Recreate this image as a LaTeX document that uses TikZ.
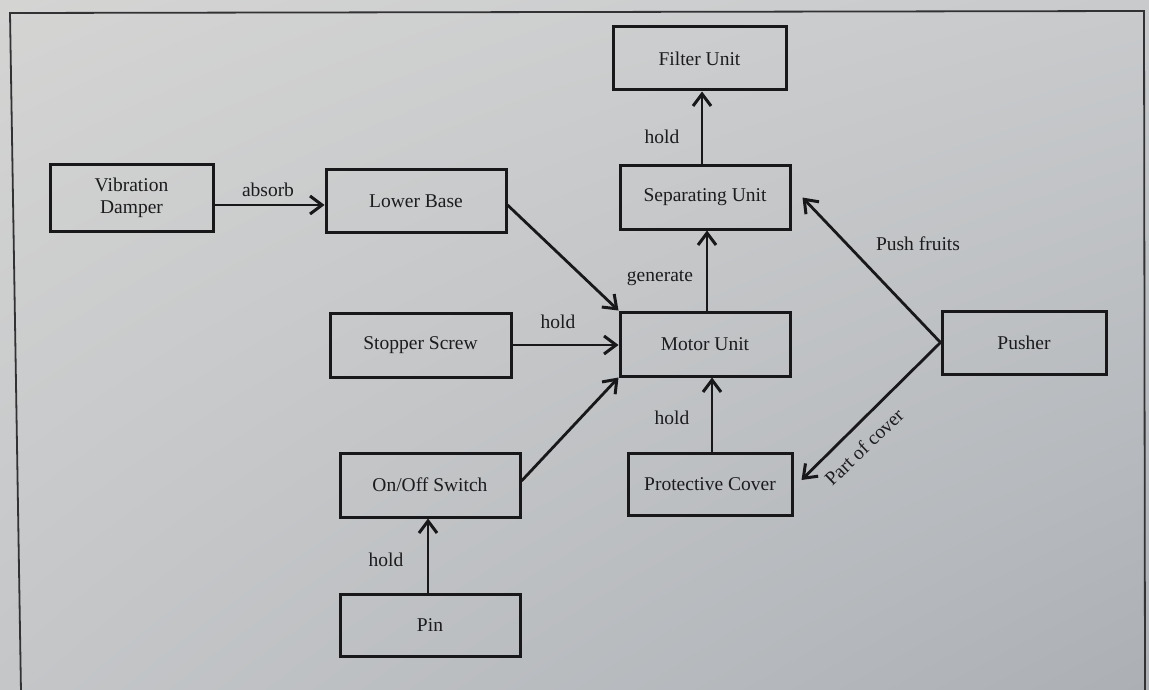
\documentclass[tikz,border=0pt]{standalone}
\usepackage{fontspec}
\setmainfont{Liberation Serif}
\usetikzlibrary{arrows.meta,shadings}

\definecolor{ink}{RGB}{24,24,26}
\definecolor{txt}{RGB}{28,28,30}
\definecolor{paperA}{RGB}{212,212,211}
\definecolor{paperB}{RGB}{200,202,204}
\definecolor{paperC}{RGB}{196,198,200}
\definecolor{paperD}{RGB}{172,176,181}
\definecolor{framec}{RGB}{50,50,53}

\tikzset{
  box/.style={draw=ink, line width=3pt, rectangle, inner sep=0pt,
              text=txt, font=\fontsize{19.5}{22}\selectfont, align=center},
  lbl/.style={text=txt, font=\fontsize{19.5}{22}\selectfont, inner sep=0pt},
  arr/.style={draw=ink, line width=2.8pt,
              -{Straight Barb[length=12pt,width=18pt,line width=3pt]}},
}

\begin{document}
\begin{tikzpicture}[x=1pt,y=-1pt]
  \useasboundingbox (0,0) rectangle (1149,690);
  \clip (0,0) rectangle (1149,690);

  % paper
  \shade[upper left=paperA, upper right=paperB, lower left=paperC, lower right=paperD]
    (0,0) rectangle (1149,690);

  % outer frame, open at the bottom
  \draw[framec, line width=1.8pt] (21,692) -- (10,13) -- (1144,11) -- (1145,692);

  % blocks
  \node[box, minimum width=163pt, minimum height=66pt] (damper)  at (131.5,198) {Vibration\\Damper};
  \node[box, minimum width=180pt, minimum height=62pt] (lower)   at (416,201)   {Lower Base};
  \node[box, minimum width=173pt, minimum height=63pt] (filter)  at (699.5,58.5){Filter Unit};
  \node[box, minimum width=170pt, minimum height=63pt] (sep)     at (705,197.5) {Separating Unit};
  \node[box, minimum width=170pt, minimum height=64pt] (motor)   at (705,344)   {Motor Unit};
  \node[box, minimum width=181pt, minimum height=64pt] (stopper) at (420.5,345) {Stopper Screw};
  \node[box, minimum width=180pt, minimum height=64pt] (onoff)   at (430,485)   {On/Off Switch};
  \node[box, minimum width=164pt, minimum height=62pt] (cover)   at (710,484)   {Protective Cover};
  \node[box, minimum width=164pt, minimum height=63pt] (pusher)  at (1024,342.5){Pusher};
  \node[box, minimum width=180pt, minimum height=62pt] (pin)     at (430,625)   {Pin};

  % connectors
  \coordinate (dOut) at ([yshift=-7pt]damper.east);
  \draw[arr] (dOut) -- (dOut -| lower.west);
  \coordinate (lOut) at ([yshift=-4pt]lower.east);
  \draw[arr] (lOut) -- (motor.north west);
  \draw[arr] (stopper.east) -- (stopper.east -| motor.west);
  \coordinate (oOut) at ([yshift=4pt]onoff.east);
  \draw[arr] (oOut) -- (motor.south west);
  \coordinate (mOut) at ([xshift=2pt]motor.north);
  \draw[arr] (mOut) -- (mOut |- sep.south);
  \coordinate (sOut) at ([xshift=-3pt]sep.north);
  \draw[arr] (sOut) -- (sOut |- filter.south);
  \coordinate (cOut) at ([xshift=2pt]cover.north);
  \draw[arr] (cOut) -- (cOut |- motor.south);
  \coordinate (pOut) at ([xshift=-2pt]pin.north);
  \draw[arr] (pOut) -- (pOut |- onoff.south);
  \draw[arr] (pusher.west) -- ([xshift=11pt]sep.east);
  \draw[arr] (pusher.west) -- ([xshift=8pt,yshift=4pt]cover.east);

  % connector labels
  \node[lbl] (tAbsorb)   at (268,190) {absorb};
  \node[lbl] (tHoldF)    at (662,137) {hold};
  \node[lbl] (tGenerate) at (660,278) {generate};
  \node[lbl] (tHoldS)    at (558,322) {hold};
  \node[lbl] (tHoldC)    at (672,418) {hold};
  \node[lbl] (tHoldP)    at (386,560) {hold};
  \node[lbl] (tPush)     at (918,244) {Push fruits};
  \node[lbl, rotate=44] (tPart) at (864,447) {Part of cover};
\end{tikzpicture}
\end{document}
